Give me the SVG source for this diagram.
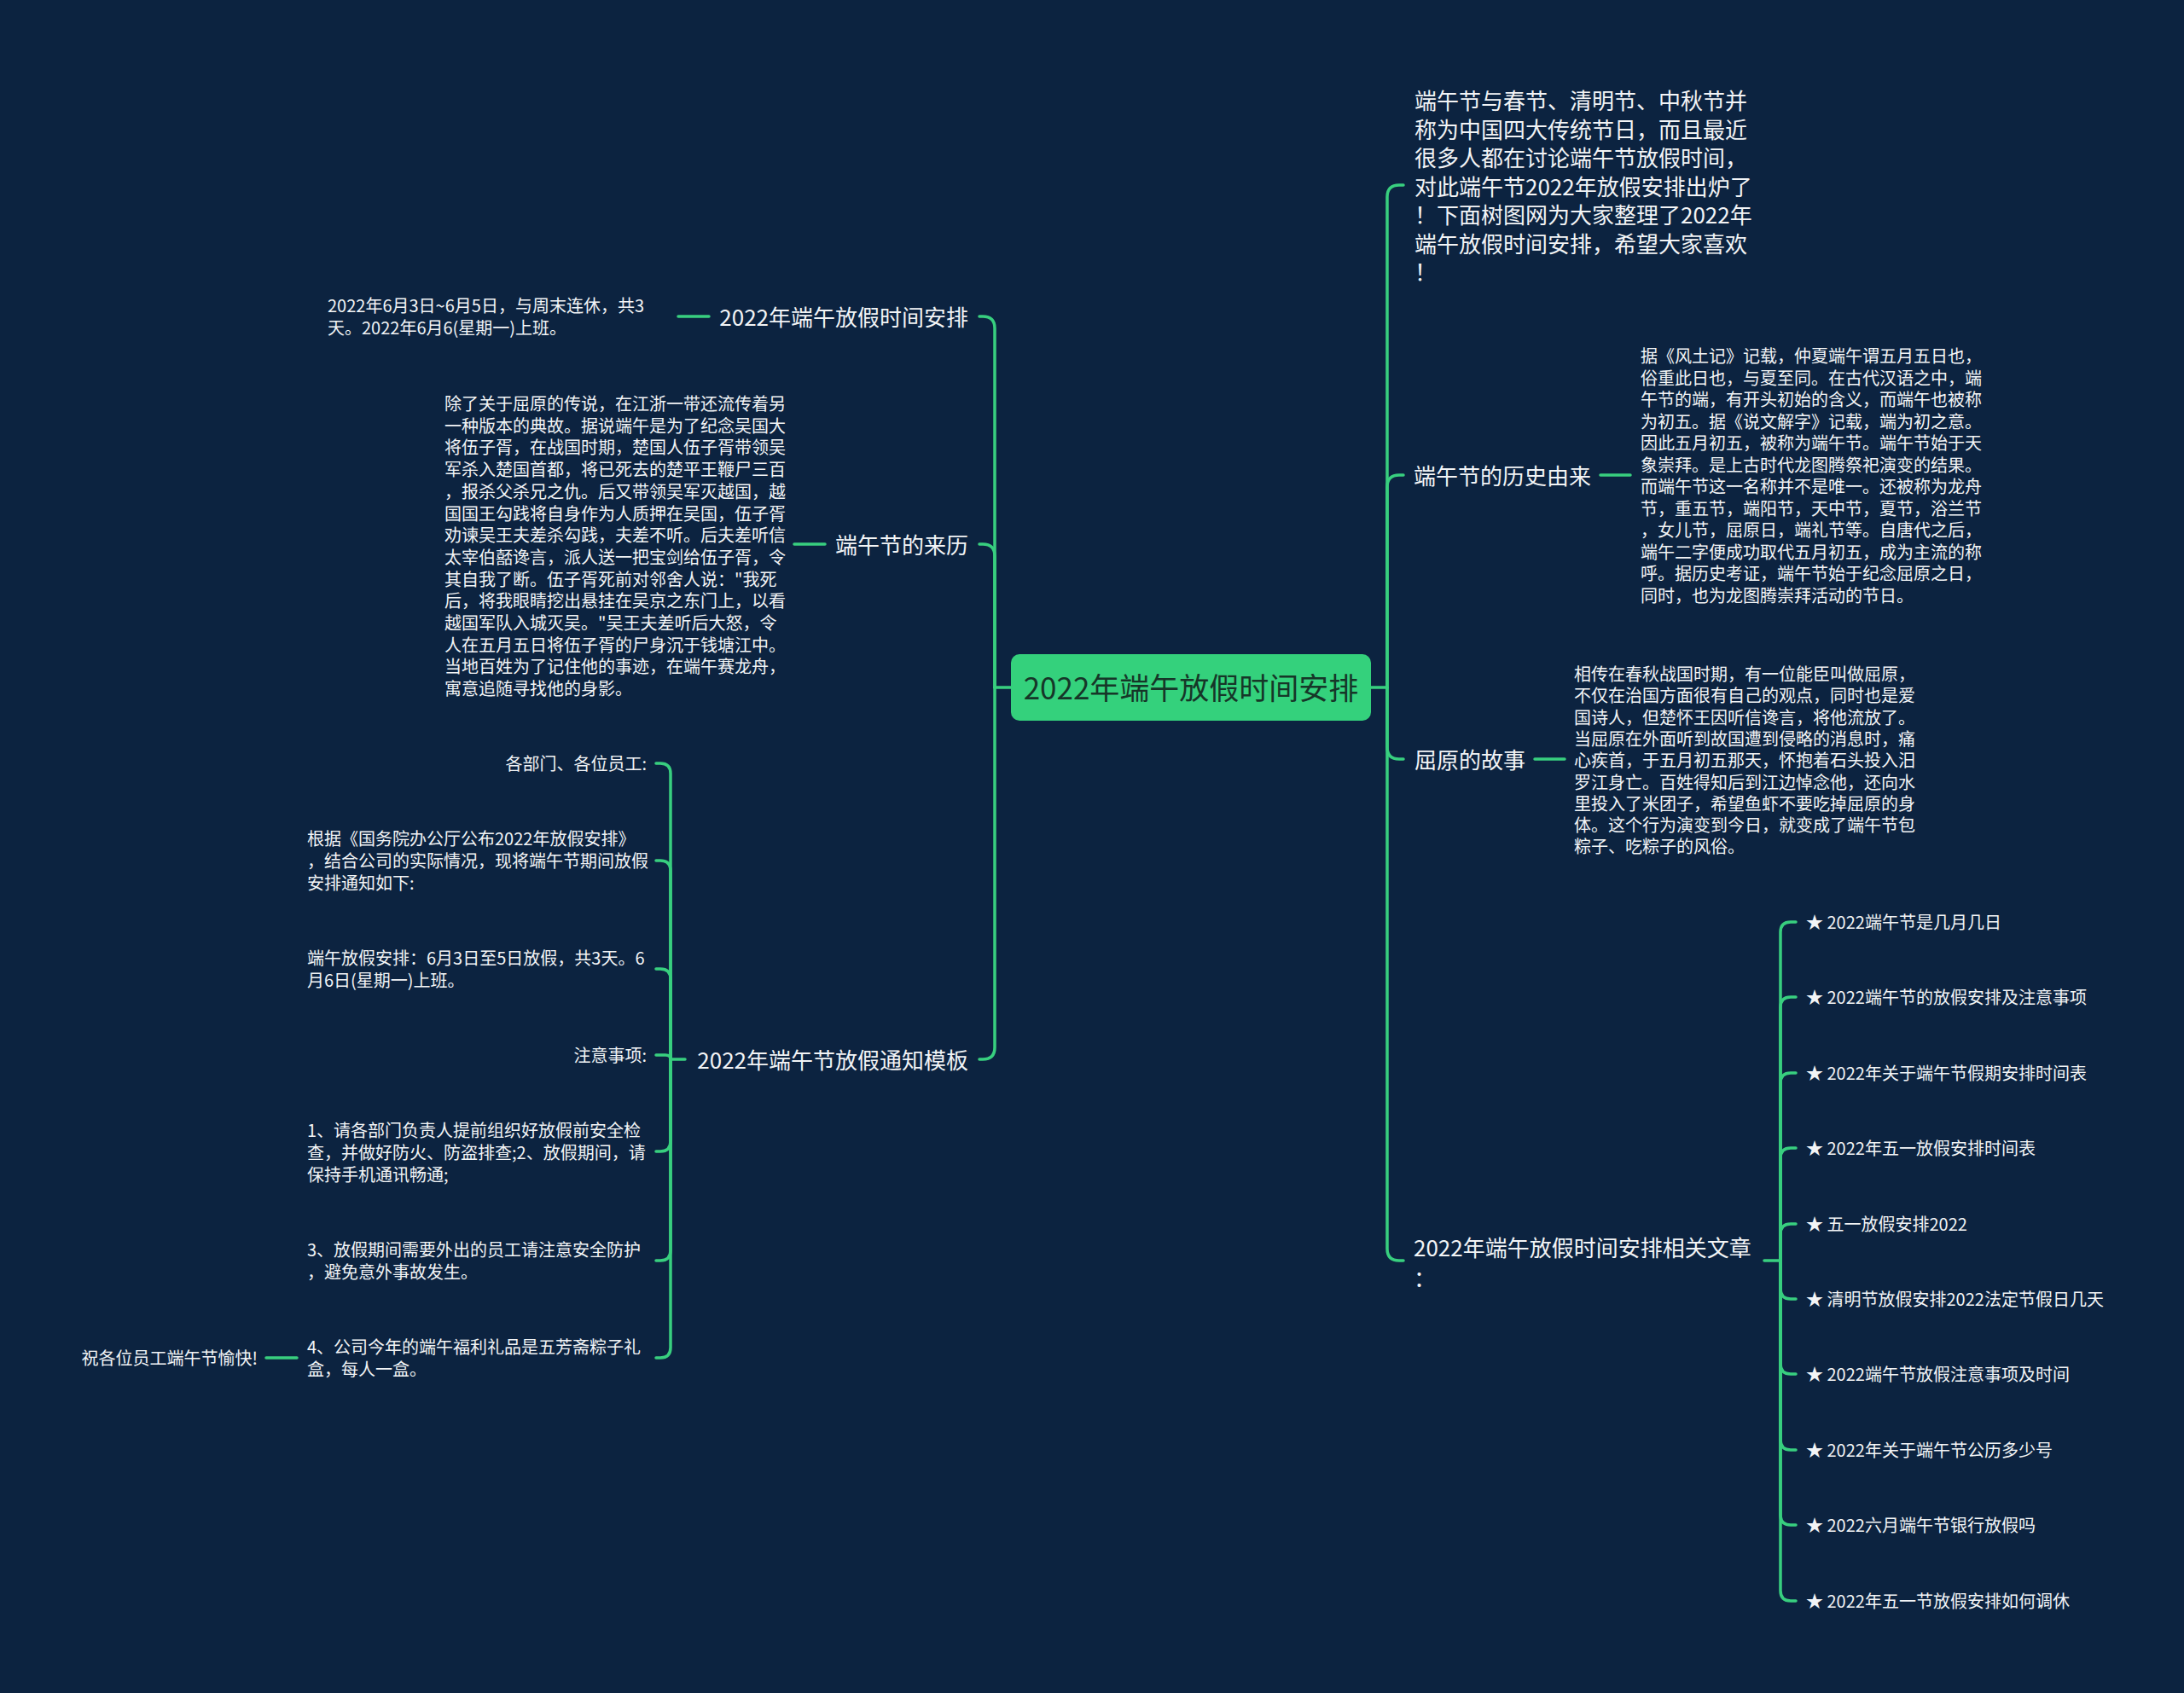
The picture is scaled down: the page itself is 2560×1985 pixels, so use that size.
<svg xmlns="http://www.w3.org/2000/svg" width="2560" height="1985" viewBox="0 0 2560 1985">
<style>
.ln{fill:none;stroke:#38cf7f;stroke-width:3.5;stroke-linecap:round;stroke-linejoin:round}
text{font-family:"Noto Sans CJK SC","Noto Sans",sans-serif;fill:#f2f4f6;dominant-baseline:central}
.lg{font-size:26px}
.sm{font-size:20px}
.ctr{font-size:35px;fill:#163628}
.end{text-anchor:end}
</style>
<rect width="2560" height="1985" fill="#0c2340"/>
<g id="connectors">
<path class="ln" d="M1607 806 H1626"/>
<path class="ln" d="M1626 806 V231 Q1626 217 1640 217 H1645"/>
<path class="ln" d="M1626 806 V571 Q1626 557 1640 557 H1645"/>
<path class="ln" d="M1626 806 V876 Q1626 890 1640 890 H1645"/>
<path class="ln" d="M1626 806 V1464 Q1626 1478 1640 1478 H1645"/>
<path class="ln" d="M1876 557 H1911"/>
<path class="ln" d="M1799 890 H1834"/>
<path class="ln" d="M2068 1478 H2087"/>
<path class="ln" d="M2087 1478 V1093 Q2087 1081 2099 1081 H2105"/>
<path class="ln" d="M2087 1478 V1181 Q2087 1169 2099 1169 H2105"/>
<path class="ln" d="M2087 1478 V1270 Q2087 1258 2099 1258 H2105"/>
<path class="ln" d="M2087 1478 V1358 Q2087 1346 2099 1346 H2105"/>
<path class="ln" d="M2087 1478 V1447 Q2087 1435 2099 1435 H2105"/>
<path class="ln" d="M2087 1478 V1511 Q2087 1523 2099 1523 H2105"/>
<path class="ln" d="M2087 1478 V1599 Q2087 1611 2099 1611 H2105"/>
<path class="ln" d="M2087 1478 V1688 Q2087 1700 2099 1700 H2105"/>
<path class="ln" d="M2087 1478 V1776 Q2087 1788 2099 1788 H2105"/>
<path class="ln" d="M2087 1478 V1865 Q2087 1877 2099 1877 H2105"/>
<path class="ln" d="M1185 806 H1166"/>
<path class="ln" d="M1166 806 V385 Q1166 371 1152 371 H1148"/>
<path class="ln" d="M1166 806 V652 Q1166 638 1152 638 H1148"/>
<path class="ln" d="M1166 806 V1228 Q1166 1242 1152 1242 H1148"/>
<path class="ln" d="M831 371 H795"/>
<path class="ln" d="M967 638 H931"/>
<path class="ln" d="M803 1242 H786"/>
<path class="ln" d="M786 1242 V907 Q786 895 774 895 H769"/>
<path class="ln" d="M786 1242 V1021 Q786 1009 774 1009 H769"/>
<path class="ln" d="M786 1242 V1148 Q786 1136 774 1136 H769"/>
<path class="ln" d="M786 1242 Q786 1237 780 1237 H769"/>
<path class="ln" d="M786 1242 V1338 Q786 1350 774 1350 H769"/>
<path class="ln" d="M786 1242 V1466 Q786 1478 774 1478 H769"/>
<path class="ln" d="M786 1242 V1580 Q786 1592 774 1592 H769"/>
<path class="ln" d="M348 1592 H312"/>
</g>
<g id="root">
<rect x="1185" y="767" width="422" height="78" rx="10" fill="#34d17c"/>
<text class="ctr" x="1396" y="804" text-anchor="middle">2022年端午放假时间安排</text>
</g>
<g id="intro">
<text class="lg" x="1658"><tspan x="1658" y="116">端午节与春节、清明节、中秋节并</tspan><tspan x="1658" y="149.5">称为中国四大传统节日，而且最近</tspan><tspan x="1658" y="183">很多人都在讨论端午节放假时间，</tspan><tspan x="1658" y="216.5">对此端午节2022年放假安排出炉了</tspan><tspan x="1658" y="250">！下面树图网为大家整理了2022年</tspan><tspan x="1658" y="283.5">端午放假时间安排，希望大家喜欢</tspan><tspan x="1658" y="317">！</tspan></text>
</g>
<g id="history">
<text class="lg" x="1657" y="556">端午节的历史由来</text>
</g>
<g id="history-detail">
<text class="sm"><tspan x="1923" y="416">据《风土记》记载，仲夏端午谓五月五日也，</tspan><tspan x="1923" y="441.5">俗重此日也，与夏至同。在古代汉语之中，端</tspan><tspan x="1923" y="467">午节的端，有开头初始的含义，而端午也被称</tspan><tspan x="1923" y="492.5">为初五。据《说文解字》记载，端为初之意。</tspan><tspan x="1923" y="518">因此五月初五，被称为端午节。端午节始于天</tspan><tspan x="1923" y="543.5">象崇拜。是上古时代龙图腾祭祀演变的结果。</tspan><tspan x="1923" y="569">而端午节这一名称并不是唯一。还被称为龙舟</tspan><tspan x="1923" y="594.5">节，重五节，端阳节，天中节，夏节，浴兰节</tspan><tspan x="1923" y="620">，女儿节，屈原日，端礼节等。自唐代之后，</tspan><tspan x="1923" y="645.5">端午二字便成功取代五月初五，成为主流的称</tspan><tspan x="1923" y="671">呼。据历史考证，端午节始于纪念屈原之日，</tspan><tspan x="1923" y="696.5">同时，也为龙图腾崇拜活动的节日。</tspan></text>
</g>
<g id="quyuan">
<text class="lg" x="1658" y="889">屈原的故事</text>
</g>
<g id="quyuan-detail">
<text class="sm"><tspan x="1845" y="789">相传在春秋战国时期，有一位能臣叫做屈原，</tspan><tspan x="1845" y="814.3">不仅在治国方面很有自己的观点，同时也是爱</tspan><tspan x="1845" y="839.6">国诗人，但楚怀王因听信谗言，将他流放了。</tspan><tspan x="1845" y="864.9">当屈原在外面听到故国遭到侵略的消息时，痛</tspan><tspan x="1845" y="890.2">心疾首，于五月初五那天，怀抱着石头投入汨</tspan><tspan x="1845" y="915.5">罗江身亡。百姓得知后到江边悼念他，还向水</tspan><tspan x="1845" y="940.8">里投入了米团子，希望鱼虾不要吃掉屈原的身</tspan><tspan x="1845" y="966.1">体。这个行为演变到今日，就变成了端午节包</tspan><tspan x="1845" y="991.4">粽子、吃粽子的风俗。</tspan></text>
</g>
<g id="articles">
<text class="lg"><tspan x="1657" y="1461">2022年端午放假时间安排相关文章</tspan><tspan x="1657" y="1497">：</tspan></text>
</g>
<g id="article-1"><text class="sm" x="2117" y="1080">★ 2022端午节是几月几日</text></g>
<g id="article-2"><text class="sm" x="2117" y="1168">★ 2022端午节的放假安排及注意事项</text></g>
<g id="article-3"><text class="sm" x="2117" y="1257">★ 2022年关于端午节假期安排时间表</text></g>
<g id="article-4"><text class="sm" x="2117" y="1345">★ 2022年五一放假安排时间表</text></g>
<g id="article-5"><text class="sm" x="2117" y="1434">★ 五一放假安排2022</text></g>
<g id="article-6"><text class="sm" x="2117" y="1522">★ 清明节放假安排2022法定节假日几天</text></g>
<g id="article-7"><text class="sm" x="2117" y="1610">★ 2022端午节放假注意事项及时间</text></g>
<g id="article-8"><text class="sm" x="2117" y="1699">★ 2022年关于端午节公历多少号</text></g>
<g id="article-9"><text class="sm" x="2117" y="1787">★ 2022六月端午节银行放假吗</text></g>
<g id="article-10"><text class="sm" x="2117" y="1876">★ 2022年五一节放假安排如何调休</text></g>
<g id="schedule">
<text class="lg end" x="1135" y="370">2022年端午放假时间安排</text>
</g>
<g id="schedule-detail">
<text class="sm"><tspan x="384" y="357">2022年6月3日~6月5日，与周末连休，共3</tspan><tspan x="384" y="383">天。2022年6月6(星期一)上班。</tspan></text>
</g>
<g id="origin">
<text class="lg end" x="1135" y="637">端午节的来历</text>
</g>
<g id="origin-detail">
<text class="sm"><tspan x="521" y="472">除了关于屈原的传说，在江浙一带还流传着另</tspan><tspan x="521" y="497.7">一种版本的典故。据说端午是为了纪念吴国大</tspan><tspan x="521" y="523.4">将伍子胥，在战国时期，楚国人伍子胥带领吴</tspan><tspan x="521" y="549.1">军杀入楚国首都，将已死去的楚平王鞭尸三百</tspan><tspan x="521" y="574.8">，报杀父杀兄之仇。后又带领吴军灭越国，越</tspan><tspan x="521" y="600.5">国国王勾践将自身作为人质押在吴国，伍子胥</tspan><tspan x="521" y="626.2">劝谏吴王夫差杀勾践，夫差不听。后夫差听信</tspan><tspan x="521" y="651.9">太宰伯嚭谗言，派人送一把宝剑给伍子胥，令</tspan><tspan x="521" y="677.6">其自我了断。伍子胥死前对邻舍人说："我死</tspan><tspan x="521" y="703.3">后，将我眼睛挖出悬挂在吴京之东门上，以看</tspan><tspan x="521" y="729">越国军队入城灭吴。"吴王夫差听后大怒，令</tspan><tspan x="521" y="754.7">人在五月五日将伍子胥的尸身沉于钱塘江中。</tspan><tspan x="521" y="780.4">当地百姓为了记住他的事迹，在端午赛龙舟，</tspan><tspan x="521" y="806.1">寓意追随寻找他的身影。</tspan></text>
</g>
<g id="notice">
<text class="lg end" x="1135" y="1241">2022年端午节放假通知模板</text>
</g>
<g id="notice-1"><text class="sm end" x="758" y="894">各部门、各位员工:</text></g>
<g id="notice-2"><text class="sm"><tspan x="360" y="982">根据《国务院办公厅公布2022年放假安排》</tspan><tspan x="360" y="1008">，结合公司的实际情况，现将端午节期间放假</tspan><tspan x="360" y="1034">安排通知如下:</tspan></text></g>
<g id="notice-3"><text class="sm"><tspan x="360" y="1122">端午放假安排：6月3日至5日放假，共3天。6</tspan><tspan x="360" y="1148">月6日(星期一)上班。</tspan></text></g>
<g id="notice-4"><text class="sm end" x="758" y="1236">注意事项:</text></g>
<g id="notice-5"><text class="sm"><tspan x="360" y="1324">1、请各部门负责人提前组织好放假前安全检</tspan><tspan x="360" y="1350">查，并做好防火、防盗排查;2、放假期间，请</tspan><tspan x="360" y="1376">保持手机通讯畅通;</tspan></text></g>
<g id="notice-6"><text class="sm"><tspan x="360" y="1464">3、放假期间需要外出的员工请注意安全防护</tspan><tspan x="360" y="1490">，避免意外事故发生。</tspan></text></g>
<g id="notice-7"><text class="sm"><tspan x="360" y="1578">4、公司今年的端午福利礼品是五芳斋粽子礼</tspan><tspan x="360" y="1604">盒，每人一盒。</tspan></text></g>
<g id="notice-8"><text class="sm end" x="302" y="1591">祝各位员工端午节愉快!</text></g>
</svg>
